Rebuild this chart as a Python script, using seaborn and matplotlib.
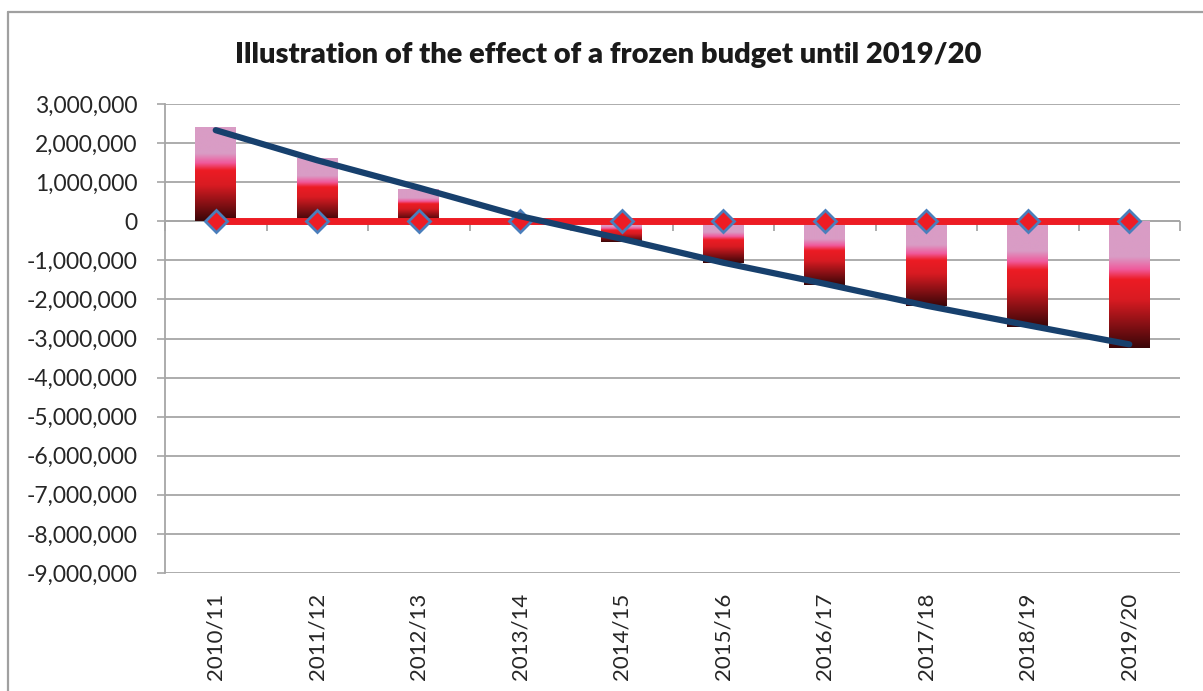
import numpy as np
import pandas as pd
import matplotlib
matplotlib.use("Agg")
import matplotlib.pyplot as plt
import seaborn as sns
from matplotlib.colors import LinearSegmentedColormap
from matplotlib.ticker import FuncFormatter, FixedLocator
from matplotlib.lines import Line2D

# ---- data ----
categories = ["2010/11", "2011/12", "2012/13", "2013/14", "2014/15",
              "2015/16", "2016/17", "2017/18", "2018/19", "2019/20"]
bar_values = [2400000, 1600000, 800000, 0, -540000,
              -1080000, -1620000, -2160000, -2700000, -3240000]
frozen_line = [0, 0, 0, 0, 0, 0, 0, 0, 0, 0]
trend_values = [2330000, 1560000, 860000, 130000, -450000,
                -1060000, -1600000, -2160000, -2660000, -3150000]
y_ticks = [-9000000, -8000000, -7000000, -6000000, -5000000, -4000000,
           -3000000, -2000000, -1000000, 0, 1000000, 2000000, 3000000]
title = "Illustration of the effect of a frozen budget until 2019/20"

sns.set_theme(style="white")
plt.rcParams["font.family"] = ["Lato", "DejaVu Sans"]

W, H = 1203, 691
fig = plt.figure(figsize=(W / 100, H / 100), dpi=100)
ax = fig.add_axes([165 / W, 1 - 573 / H, (1180 - 165) / W, (573 - 104) / H])

df = pd.DataFrame({"cat": categories, "val": bar_values})
sns.barplot(data=df, x="cat", y="val", ax=ax, width=0.4, color="#ED1C24",
            errorbar=None, zorder=2)

# gradient fills
cmap = LinearSegmentedColormap.from_list("grad", [
    (0.0, "#D99CC5"), (0.28, "#D99CC5"), (0.38, "#F05A9C"),
    (0.46, "#ED1C24"), (0.62, "#D81B22"), (1.0, "#3A0608")])
grad = np.linspace(0, 1, 256).reshape(-1, 1)
for p in ax.patches:
    x0, w = p.get_x(), p.get_width()
    y0, h = p.get_y(), p.get_height()
    top, bot = max(y0, y0 + h), min(y0, y0 + h)
    if top == bot:
        p.set_visible(False)
        continue
    ax.imshow(grad, cmap=cmap, aspect="auto", origin="upper",
              extent=[x0, x0 + w, bot, top], zorder=2, interpolation="bilinear")
    p.set_visible(False)

x = np.arange(len(categories))
# red frozen line with diamonds
ax.plot(x, frozen_line, color="#ED1C24", lw=5, zorder=4,
        marker="D", markersize=11, markerfacecolor="#ED1C24",
        markeredgecolor="#4A7EBB", markeredgewidth=2)
# trend line
ax.plot(x, trend_values, color="#17406D", lw=4.5, zorder=5,
        solid_capstyle="round")

# tick marks on the zero axis between categories
bounds = np.arange(len(categories) + 1) - 0.5
ax.axhline(0, color="#A6A6A6", lw=1.2, zorder=1)
ax.plot(bounds, np.zeros_like(bounds), ls="none", marker=3, markersize=7,
        markeredgewidth=1.3, color="#A6A6A6", zorder=1, clip_on=False)

ax.set_xlim(-0.5, len(categories) - 0.5)
ax.set_ylim(-9000000, 3000000)
ax.yaxis.set_major_locator(FixedLocator(y_ticks))
ax.yaxis.set_major_formatter(FuncFormatter(lambda v, _: f"{v:,.0f}"))
ax.grid(axis="y", color="#A6A6A6", lw=1.3, zorder=0)
ax.grid(axis="x", visible=False)
ax.set_axisbelow(True)

for s in ["top", "right", "bottom"]:
    ax.spines[s].set_visible(False)
ax.spines["left"].set_color("#A6A6A6")
ax.spines["left"].set_linewidth(1.3)

ax.tick_params(axis="y", which="major", direction="out", length=6, width=1.2,
               color="#A6A6A6", labelsize=16.5, labelcolor="#262626", pad=14,
               left=True)
ax.tick_params(axis="x", which="major", length=0, labelsize=16,
               labelcolor="#262626", pad=14, labelrotation=90)
ax.set_xlabel("")
ax.set_ylabel("")

fig.text(608 / W, 1 - 55 / H, title, ha="center", va="center",
         fontsize=21, fontweight="heavy", color="#1A1A1A")

# outer chart frame
fig.add_artist(Line2D([8 / W, 8 / W], [0, 1 - 12 / H], color="#A0A0A0", lw=1.6))
fig.add_artist(Line2D([8 / W, 1], [1 - 12 / H, 1 - 12 / H], color="#A0A0A0", lw=1.6))

fig.savefig("out.png", dpi=100)
